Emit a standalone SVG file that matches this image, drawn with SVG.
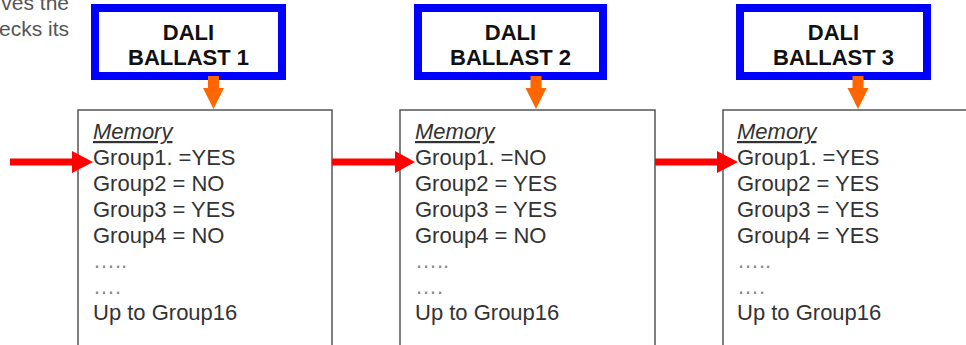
<svg xmlns="http://www.w3.org/2000/svg" width="966" height="345" viewBox="0 0 966 345">
<style>
.ballast{fill:#fff;stroke:#0000ff;stroke-width:8}
.bt{font-family:"Liberation Sans",Arial,sans-serif;font-size:22px;font-weight:bold;fill:#111;text-anchor:middle}
.mem{fill:#fff;stroke:#555;stroke-width:1.5}
.mt{font-family:"Liberation Sans",Arial,sans-serif;font-size:22px;fill:#333}
.dots{font-family:"Liberation Sans",Arial,sans-serif;font-size:22px;fill:#888}
.cap{font-family:"Liberation Sans",Arial,sans-serif;font-size:21px;fill:#555;text-anchor:end}
.red{fill:#ff0000}
.org{fill:#ff6600}
</style>
<rect width="966" height="345" fill="#fff"/>
<g id="caption">
<text class="cap" x="69" y="10">ves the</text>
<text class="cap" x="69" y="36">ecks its</text>
</g>
<g id="ballast1">
<rect class="ballast" x="95" y="8" width="187" height="68"/>
<text class="bt" x="188.5" y="40">DALI</text>
<text class="bt" x="188.5" y="65">BALLAST 1</text>
</g>
<g id="ballast2">
<rect class="ballast" x="418" y="8" width="185" height="68"/>
<text class="bt" x="510.5" y="40">DALI</text>
<text class="bt" x="510.5" y="65">BALLAST 2</text>
</g>
<g id="ballast3">
<rect class="ballast" x="740" y="8" width="187" height="68"/>
<text class="bt" x="833.5" y="40">DALI</text>
<text class="bt" x="833.5" y="65">BALLAST 3</text>
</g>
<g id="memory1">
<rect class="mem" x="78" y="110" width="254" height="260"/>
<text class="mt" x="93" y="139" font-style="italic" text-decoration="underline">Memory</text>
<text class="mt" x="93" y="165">Group1. =YES</text>
<text class="mt" x="93" y="191">Group2 = NO</text>
<text class="mt" x="93" y="216.5">Group3 = YES</text>
<text class="mt" x="93" y="242.5">Group4 = NO</text>
<text class="dots" x="93" y="268">…..</text>
<text class="dots" x="93" y="294">….</text>
<text class="mt" x="93" y="320">Up to Group16</text>
</g>
<g id="memory2">
<rect class="mem" x="400" y="110" width="255" height="260"/>
<text class="mt" x="415" y="139" font-style="italic" text-decoration="underline">Memory</text>
<text class="mt" x="415" y="165">Group1. =NO</text>
<text class="mt" x="415" y="191">Group2 = YES</text>
<text class="mt" x="415" y="216.5">Group3 = YES</text>
<text class="mt" x="415" y="242.5">Group4 = NO</text>
<text class="dots" x="415" y="268">…..</text>
<text class="dots" x="415" y="294">….</text>
<text class="mt" x="415" y="320">Up to Group16</text>
</g>
<g id="memory3">
<rect class="mem" x="723" y="110" width="270" height="260"/>
<text class="mt" x="737" y="139" font-style="italic" text-decoration="underline">Memory</text>
<text class="mt" x="737" y="165">Group1. =YES</text>
<text class="mt" x="737" y="191">Group2 = YES</text>
<text class="mt" x="737" y="216.5">Group3 = YES</text>
<text class="mt" x="737" y="242.5">Group4 = YES</text>
<text class="dots" x="737" y="268">…..</text>
<text class="dots" x="737" y="294">….</text>
<text class="mt" x="737" y="320">Up to Group16</text>
</g>
<g id="connectors">
<polygon class="org" points="208,76 219,76 219,88 224,88 213.5,109 203,88 208,88"/>
<polygon class="org" points="530.5,76 541.5,76 541.5,88 546.5,88 536,109 525.5,88 530.5,88"/>
<polygon class="org" points="852.5,76 863.5,76 863.5,88 868.5,88 858,109 847.5,88 852.5,88"/>
<polygon class="red" points="10,158.5 72,158.5 72,151 93,162 72,173 72,165.5 10,165.5"/>
<polygon class="red" points="332,158.5 395,158.5 395,151 415,162 395,173 395,165.5 332,165.5"/>
<polygon class="red" points="655,158.5 717,158.5 717,151 738,162 717,173 717,165.5 655,165.5"/>
</g>
</svg>
